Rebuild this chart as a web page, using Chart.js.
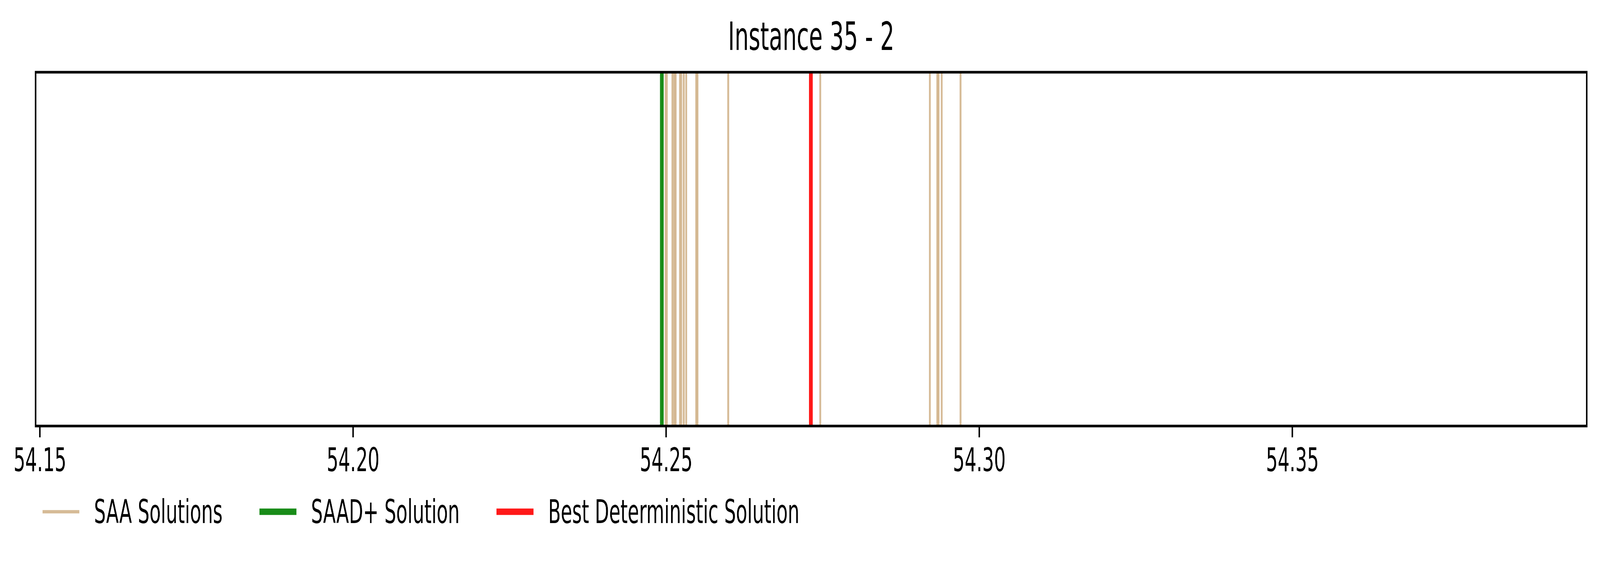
<!DOCTYPE html>
<html>
<head>
<meta charset="utf-8">
<script src="https://cdn.jsdelivr.net/npm/chart.js@4.4.1/dist/chart.umd.min.js"></script>
<style>
  html, body { margin: 0; padding: 0; background: #fff; overflow: hidden; }
  canvas { display: block; }
</style>
</head>
<body>
<!-- desenhado em 7195x1450 e encaixado na janela pelo CSS -->
<canvas id="grafico" width="7195" height="1450" style="width:100vw;height:100vh"></canvas>
<script>
// valores
const saaSolutions = [54.2499, 54.2501, 54.2510, 54.2513, 54.2515, 54.2522, 54.2524, 54.2528, 54.2532,
                      54.2548, 54.2550, 54.2599, 54.2746, 54.2921, 54.2933, 54.2935, 54.2940, 54.2970];
const saadPlusSolution = [54.2493];
const bestDeterministic = [54.2731];
const tickValues = [54.15, 54.20, 54.25, 54.30, 54.35];
const xLimits = [54.1493, 54.3970];
const legendLabels = ["SAA Solutions", "SAAD+ Solution", "Best Deterministic Solution"];

const corTan = "rgba(210,180,140,0.9)";
const corVerde = "rgba(0,128,0,0.9)";
const corVermelho = "rgba(255,0,0,0.9)";
const fino = 8.3;
const grosso = 16.7;

Chart.defaults.font.family = "'DejaVu Sans', sans-serif";
Chart.defaults.color = "#000";

// cada solução vira um segmento vertical de y=0 a y=1
function linhaVertical(v, cor, largura, ordem) {
    return {
        data: [{x: v, y: 0}, {x: v, y: 1}],
        borderColor: cor,
        borderWidth: largura,
        borderCapStyle: "butt",
        pointRadius: 0,
        showLine: true,
        order: ordem
    };
}

var datasets = [];
for (let i = 0; i < saaSolutions.length; i++) {
    datasets.push(linhaVertical(saaSolutions[i], corTan, fino, 3));
}
for (let i = 0; i < saadPlusSolution.length; i++) {
    datasets.push(linhaVertical(saadPlusSolution[i], corVerde, grosso, 2));
}
for (let i = 0; i < bestDeterministic.length; i++) {
    datasets.push(linhaVertical(bestDeterministic[i], corVermelho, grosso, 1));
}

// moldura (spines) por cima das linhas
const moldura = {
    id: "moldura",
    afterDatasetsDraw(chart) {
        const a = chart.chartArea;
        const ctx = chart.ctx;
        ctx.save();
        ctx.strokeStyle = "#000";
        ctx.lineWidth = 6.7;
        ctx.strokeRect(a.left, a.top, a.right - a.left, a.bottom - a.top);
        ctx.restore();
    }
};

// legenda estilo matplotlib, embaixo à esquerda
const legenda = {
    id: "legenda",
    afterDraw(chart) {
        const ctx = chart.ctx;
        const itens = [
            {texto: legendLabels[0], cor: corTan, largura: fino},
            {texto: legendLabels[1], cor: corVerde, largura: grosso},
            {texto: legendLabels[2], cor: corVermelho, largura: grosso}
        ];
        const y = 1311;
        let x = 191;
        ctx.save();
        ctx.font = "83px 'DejaVu Sans'";
        ctx.textBaseline = "alphabetic";
        ctx.fillStyle = "#000";
        for (let i = 0; i < itens.length; i++) {
            ctx.beginPath();
            ctx.strokeStyle = itens[i].cor;
            ctx.lineWidth = itens[i].largura;
            ctx.lineCap = "butt";
            ctx.moveTo(x, y);
            ctx.lineTo(x + 166, y);
            ctx.stroke();
            const tx = x + 166 + 66;
            ctx.fillText(itens[i].texto, tx, 1340);
            x = tx + ctx.measureText(itens[i].texto).width + 166;
        }
        ctx.restore();
    }
};

var ctx = document.getElementById("grafico").getContext("2d");
var myChart = new Chart(ctx, {
    type: "scatter",
    data: { datasets: datasets },
    options: {
        responsive: false,
        animation: false,
        devicePixelRatio: 1,
        layout: { padding: { left: 160, right: 59.5, top: 0, bottom: 200 } },
        plugins: {
            legend: { display: false },
            tooltip: { enabled: false },
            title: {
                display: true,
                text: "Instance 35 - 2",
                fullSize: false,
                font: { size: 100, weight: "normal" },
                color: "#000",
                padding: { top: 42, bottom: 23 }
            }
        },
        scales: {
            x: {
                type: "linear",
                min: xLimits[0],
                max: xLimits[1],
                afterBuildTicks: function (axis) {
                    axis.ticks = tickValues.map(v => ({ value: v }));
                },
                ticks: {
                    font: { size: 83 },
                    color: "#000",
                    padding: 15,
                    maxRotation: 0,
                    autoSkip: false,
                    callback: function (v) { return Number(v).toFixed(2); }
                },
                grid: {
                    drawOnChartArea: false,
                    drawTicks: true,
                    tickLength: 29,
                    tickWidth: 6.7,
                    tickColor: "#000"
                },
                border: { display: false }
            },
            y: {
                display: false,
                min: 0,
                max: 1
            }
        }
    },
    plugins: [moldura, legenda]
});
</script>
</body>
</html>
